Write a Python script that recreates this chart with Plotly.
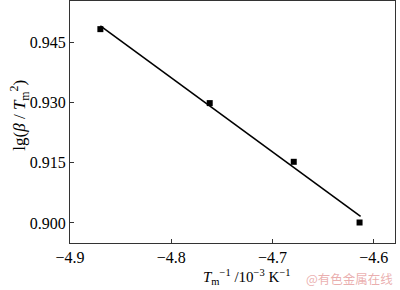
import plotly.graph_objects as go

# Measured points
x_pts = [-4.870, -4.762, -4.679, -4.614]
y_pts = [0.9482, 0.9298, 0.9152, 0.9001]

# Linear fit line endpoints
fit_x = [-4.870, -4.613]
fit_y = [0.9490, 0.9016]

x_ticks = [-4.9, -4.8, -4.7, -4.6]
y_ticks = [0.900, 0.915, 0.930, 0.945]

font_fam = "Liberation Serif, Times New Roman, serif"

fig = go.Figure()
fig.add_trace(go.Scatter(x=fit_x, y=fit_y, mode="lines",
                         line=dict(color="black", width=1.6), showlegend=False))
fig.add_trace(go.Scatter(x=x_pts, y=y_pts, mode="markers",
                         marker=dict(symbol="square", size=6, color="black"),
                         showlegend=False))

axis_common = dict(showgrid=False, zeroline=False, showline=True, linecolor="#333",
                   linewidth=1.2, mirror=True, ticks="inside", ticklen=4,
                   tickcolor="#333", tickfont=dict(family=font_fam, size=16, color="black"))

fig.update_layout(
    width=400, height=290,
    margin=dict(l=70, r=5, t=1, b=47),
    paper_bgcolor="white", plot_bgcolor="white",
    xaxis=dict(range=[-4.9, -4.579], tickvals=x_ticks,
               ticktext=[f"\u2212{abs(v):.1f}" for v in x_ticks],
               **axis_common),
    yaxis=dict(range=[0.895, 0.9552], tickvals=y_ticks,
               ticktext=[f"{v:.3f}" for v in y_ticks],
               **axis_common),
    annotations=[
        dict(text="<i>T</i><sub>m</sub><sup>\u22121</sup> /10<sup>\u22123</sup> K<sup>\u22121</sup>",
             xref="paper", yref="paper", x=0.545, y=-0.14, xanchor="center", yanchor="middle",
             showarrow=False, font=dict(family=font_fam, size=15, color="black")),
        dict(text="lg(<i>β</i> / <i>T</i><sub>m</sub><sup>2</sup>)",
             xref="paper", yref="paper", x=-0.154, y=0.53, xanchor="center", yanchor="middle",
             textangle=-90, showarrow=False, font=dict(family=font_fam, size=17, color="black")),
        dict(text="@有色金属在线", xref="paper", yref="paper", x=1.0, y=-0.145,
             xanchor="right", yanchor="middle", showarrow=False,
             font=dict(family="Noto Sans CJK SC", size=12.5, color="rgba(225,140,140,0.7)")),
    ],
)

fig.write_html("out.html")
